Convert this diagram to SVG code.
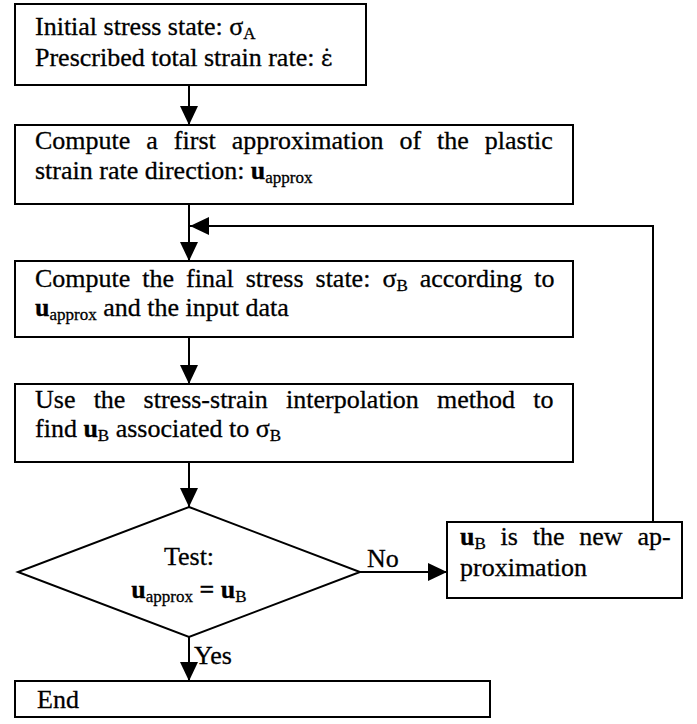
<svg xmlns="http://www.w3.org/2000/svg" width="697" height="724" viewBox="0 0 697 724">
<style>
.bx{fill:#fff;stroke:#000;stroke-width:2}
.t{font-family:"Liberation Serif","Times New Roman",serif;font-size:26px;fill:#000;stroke:#000;stroke-width:0.3}
.b{font-weight:bold}
.s{font-size:17px;font-weight:normal}
.c{fill:none;stroke:#000;stroke-width:2}
</style>
<defs>
<marker id="ah" markerUnits="userSpaceOnUse" markerWidth="20" markerHeight="20" refX="19" refY="9" orient="auto">
<path d="M0,0 L19,9 L0,18 z" fill="#000"/>
</marker>
</defs>
<rect width="697" height="724" fill="#fff"/>
<g id="connectors">
<line class="c" x1="189" y1="85" x2="189" y2="125" marker-end="url(#ah)"/>
<line class="c" x1="189" y1="204" x2="189" y2="261" marker-end="url(#ah)"/>
<polyline class="c" points="653,522 653,226 190,226" marker-end="url(#ah)"/>
<line class="c" x1="189" y1="337" x2="189" y2="384" marker-end="url(#ah)"/>
<line class="c" x1="189" y1="462" x2="189" y2="507" marker-end="url(#ah)"/>
<line class="c" x1="360" y1="572" x2="447" y2="572" marker-end="url(#ah)"/>
<line class="c" x1="189" y1="637" x2="189" y2="681" marker-end="url(#ah)"/>
<text class="t" x="367" y="567">No</text>
<text class="t" x="194" y="664">Yes</text>
</g>
<g id="n1">
<rect class="bx" x="15" y="4" width="351" height="81"/>
<text class="t" x="35" y="35">Initial stress state: σ<tspan class="s" dy="4">A</tspan></text>
<text class="t" x="35" y="66">Prescribed total strain rate: <tspan style="font-family:'DejaVu Serif',serif;font-size:22px">ε̇</tspan></text>
</g>
<g id="n2">
<rect class="bx" x="15" y="125" width="558" height="79"/>
<text class="t" x="35" y="149" style="word-spacing:9.5px">Compute a first approximation of the plastic</text>
<text class="t" x="35" y="179">strain rate direction: <tspan class="b">u</tspan><tspan class="s" dy="4">approx</tspan></text>
</g>
<g id="n3">
<rect class="bx" x="15" y="261" width="558" height="76"/>
<text class="t" x="35" y="287" style="word-spacing:5.5px">Compute the final stress state: σ<tspan class="s" dy="4">B</tspan><tspan dy="-4"> according to</tspan></text>
<text class="t" x="35" y="316"><tspan class="b">u</tspan><tspan class="s" dy="4">approx</tspan><tspan dy="-4"> and the input data</tspan></text>
</g>
<g id="n4">
<rect class="bx" x="15" y="384" width="558" height="78"/>
<text class="t" x="35" y="408" style="word-spacing:11.7px">Use the stress-strain interpolation method to</text>
<text class="t" x="35" y="437">find <tspan class="b">u</tspan><tspan class="s" dy="4">B</tspan><tspan dy="-4"> associated to σ</tspan><tspan class="s" dy="4">B</tspan></text>
</g>
<g id="n5">
<polygon class="bx" points="189,507 360,572 189,637 18,572"/>
<text class="t" x="189" y="565" text-anchor="middle">Test:</text>
<text class="t b" x="189" y="598" text-anchor="middle">u<tspan class="s" dy="4">approx</tspan><tspan dy="-4"> = u</tspan><tspan class="s" dy="4">B</tspan></text>
</g>
<g id="n6">
<rect class="bx" x="447" y="522" width="235" height="76"/>
<text class="t" x="460" y="545" style="word-spacing:8.3px"><tspan class="b">u</tspan><tspan class="s" dy="4">B</tspan><tspan dy="-4"> is the new ap-</tspan></text>
<text class="t" x="460" y="576">proximation</text>
</g>
<g id="n7">
<rect class="bx" x="15" y="681" width="475" height="36"/>
<text class="t" x="37" y="708">End</text>
</g>
</svg>
